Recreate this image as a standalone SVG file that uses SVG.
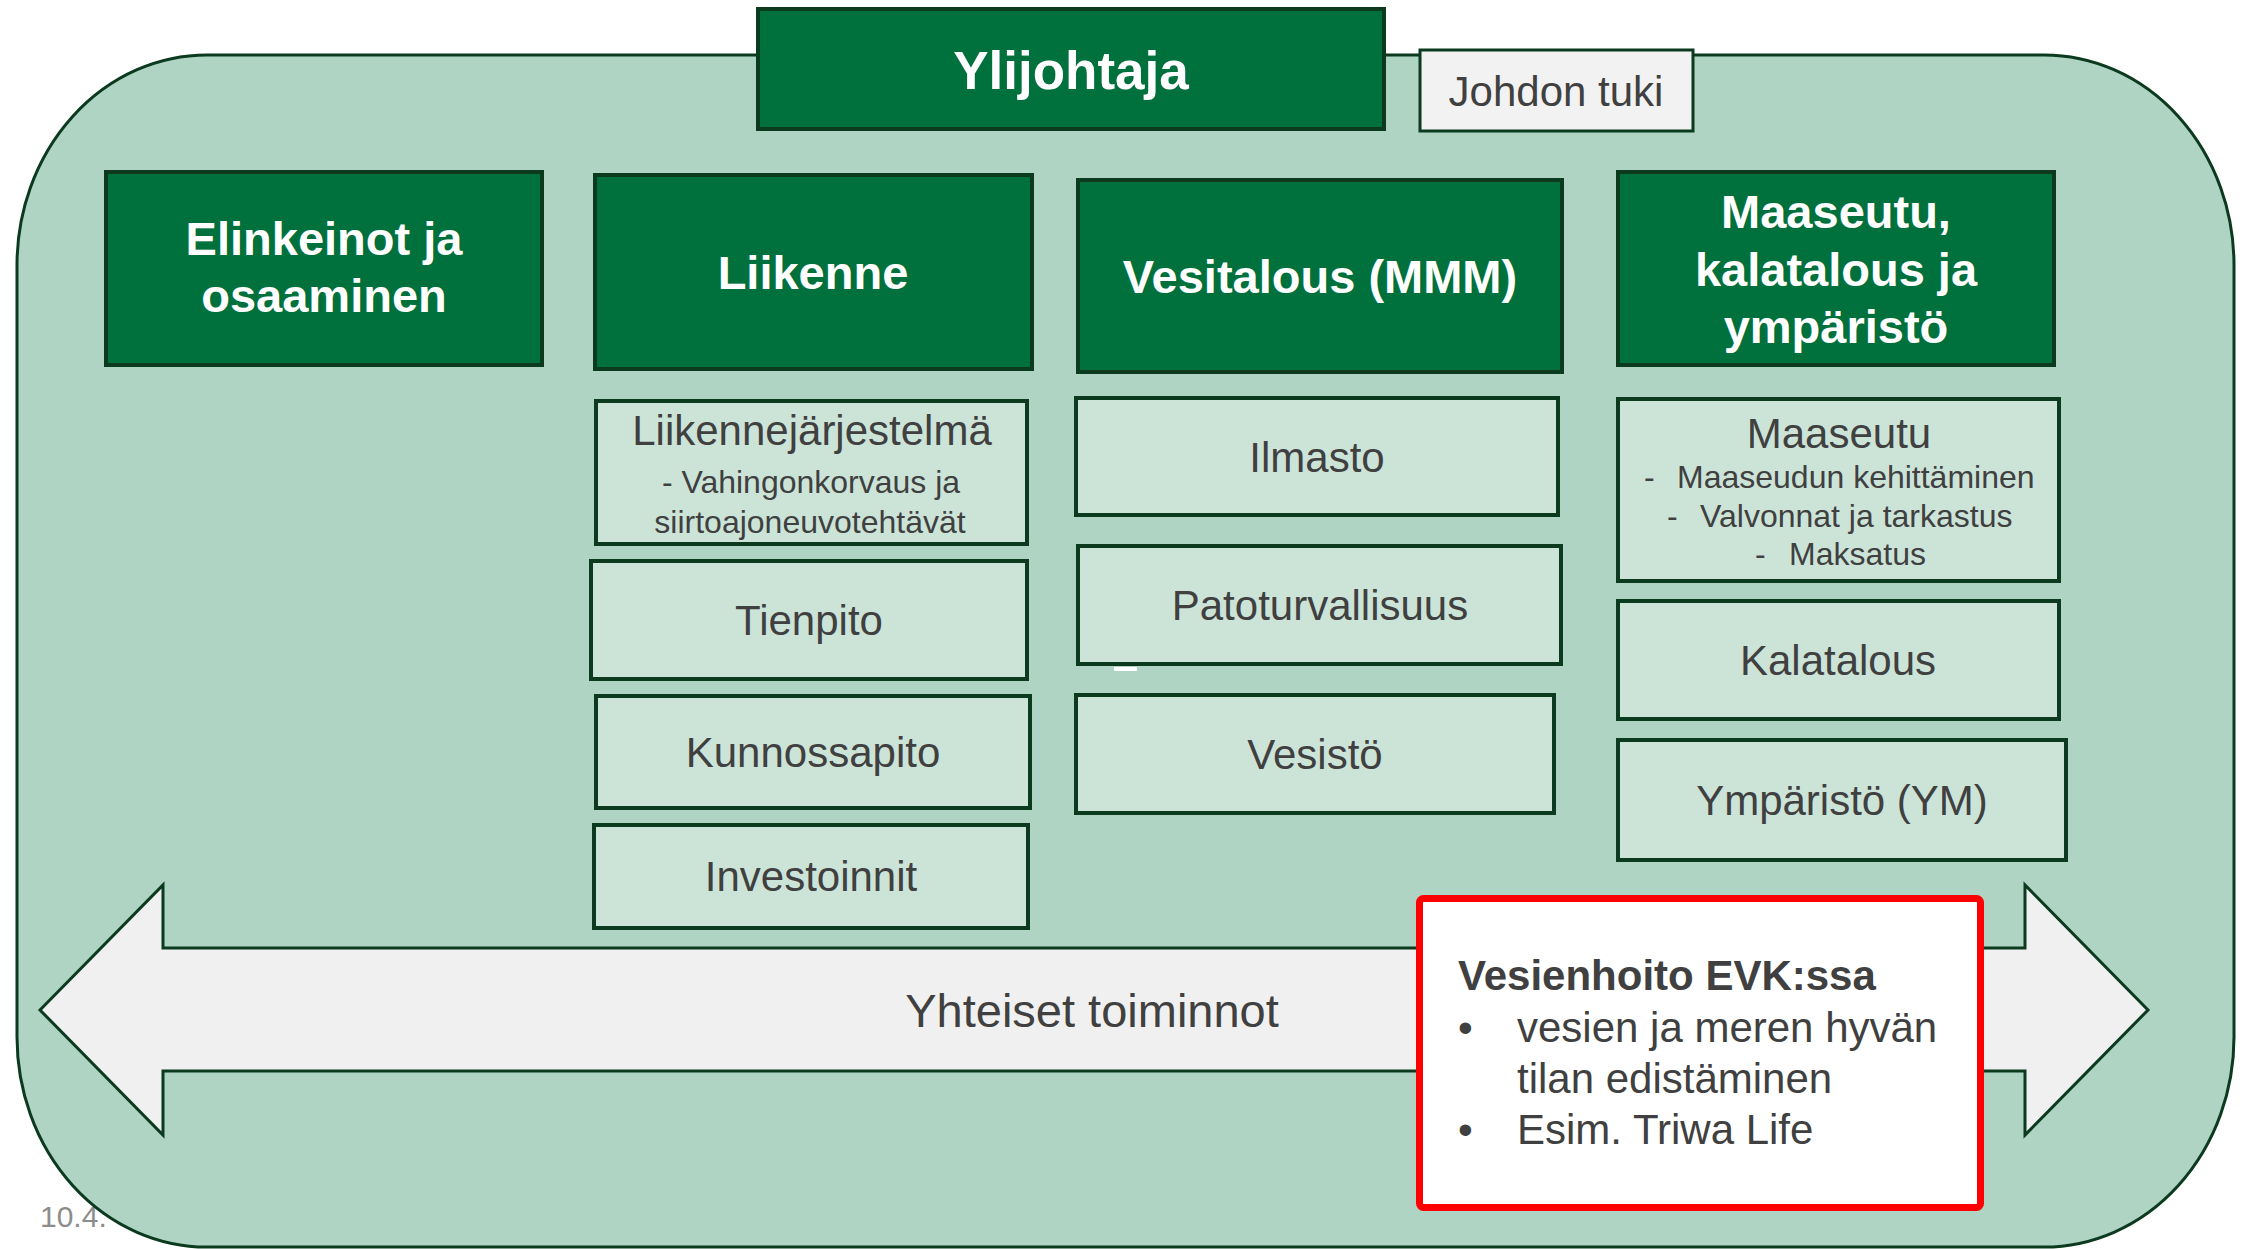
<svg xmlns="http://www.w3.org/2000/svg" width="2242" height="1249" viewBox="0 0 2242 1249">
<style>
text{font-family:"Liberation Sans",Arial,sans-serif;}
.hdr{fill:#00703C;stroke:#0B3A1F;stroke-width:4;}
.hdrt{fill:#FFFFFF;font-weight:bold;font-size:47px;text-anchor:middle;}
.sub{fill:#CCE4D8;stroke:#0B3A1F;stroke-width:4;}
.subt{fill:#404040;font-size:42px;text-anchor:middle;}
.small{fill:#404040;font-size:32px;}
.red{fill:#404040;font-size:42px;}
</style>
<rect width="2242" height="1249" fill="#FFFFFF"/>
<text x="40" y="1227" font-size="30" fill="#8C8C8C">10.4.</text>
<rect id="frame" x="17" y="55" width="2217" height="1192" rx="190" ry="210" fill="#AFD4C4" stroke="#0B3A1F" stroke-width="3"/>

<g id="ylijohtaja"><rect class="hdr" x="758" y="9" width="626" height="120"/><text class="hdrt" x="1071" y="89" font-size="53" style="font-size:53px">Ylijohtaja</text></g>
<g id="johdon-tuki"><rect x="1420" y="50" width="273" height="81" fill="#F2F2F2" stroke="#0B3A1F" stroke-width="3"/><text class="subt" x="1556" y="106">Johdon tuki</text></g>

<g id="elinkeinot"><rect class="hdr" x="106" y="172" width="436" height="193"/><text class="hdrt" x="324" y="255">Elinkeinot ja</text><text class="hdrt" x="324" y="312">osaaminen</text></g>
<g id="liikenne"><rect class="hdr" x="595" y="175" width="437" height="194"/><text class="hdrt" x="813" y="289">Liikenne</text></g>
<g id="vesitalous"><rect class="hdr" x="1078" y="180" width="484" height="192"/><text class="hdrt" x="1320" y="293">Vesitalous (MMM)</text></g>
<g id="maaseutu-header"><rect class="hdr" x="1618" y="172" width="436" height="193"/><text class="hdrt" x="1836" y="228">Maaseutu,</text><text class="hdrt" x="1836" y="286">kalatalous ja</text><text class="hdrt" x="1836" y="343">ympäristö</text></g>

<g id="liikennejarjestelma"><rect class="sub" x="596" y="401" width="431" height="143"/><text class="subt" x="812" y="445">Liikennejärjestelmä</text><text class="small" x="811" y="493" text-anchor="middle">- Vahingonkorvaus ja</text><text class="small" x="810" y="533" text-anchor="middle">siirtoajoneuvotehtävät</text></g>
<g id="tienpito"><rect class="sub" x="591" y="561" width="436" height="118"/><text class="subt" x="809" y="635">Tienpito</text></g>
<g id="kunnossapito"><rect class="sub" x="596" y="696" width="434" height="112"/><text class="subt" x="813" y="767">Kunnossapito</text></g>
<g id="investoinnit"><rect class="sub" x="594" y="825" width="434" height="103"/><text class="subt" x="811" y="891">Investoinnit</text></g>

<g id="ilmasto"><rect class="sub" x="1076" y="398" width="482" height="117"/><text class="subt" x="1317" y="472">Ilmasto</text></g>
<g id="patoturvallisuus"><rect class="sub" x="1078" y="546" width="483" height="118"/><text class="subt" x="1320" y="620">Patoturvallisuus</text></g>
<rect x="1114" y="667" width="23" height="4" fill="#FFFFFF"/>
<g id="vesisto"><rect class="sub" x="1076" y="695" width="478" height="118"/><text class="subt" x="1315" y="769">Vesistö</text></g>

<g id="maaseutu"><rect class="sub" x="1618" y="399" width="441" height="182"/><text class="subt" x="1839" y="448">Maaseutu</text>
<text class="small"><tspan x="1644" y="488">-</tspan><tspan x="1677" y="488">Maaseudun kehittäminen</tspan></text>
<text class="small"><tspan x="1667" y="527">-</tspan><tspan x="1700" y="527">Valvonnat ja tarkastus</tspan></text>
<text class="small"><tspan x="1755" y="565">-</tspan><tspan x="1789" y="565">Maksatus</tspan></text></g>
<g id="kalatalous"><rect class="sub" x="1618" y="601" width="441" height="118"/><text class="subt" x="1838" y="675">Kalatalous</text></g>
<g id="ymparisto"><rect class="sub" x="1618" y="740" width="448" height="120"/><text class="subt" x="1842" y="815">Ympäristö (YM)</text></g>

<g id="connectors">
<polygon id="yhteiset-arrow" points="40,1010 163,885 163,948 2025,948 2025,885 2148,1010 2025,1135 2025,1071 163,1071 163,1135" fill="#F0F0F0" stroke="#0B3A1F" stroke-width="3" stroke-linejoin="miter"/>
<text x="1092" y="1027" font-size="47" fill="#404040" text-anchor="middle">Yhteiset toiminnot</text>
</g>

<g id="vesienhoito"><rect x="1419.5" y="898.5" width="561" height="309" rx="4" fill="#FFFFFF" stroke="#FF0000" stroke-width="7"/>
<text x="1458" y="990" font-size="42" font-weight="bold" fill="#404040">Vesienhoito EVK:ssa</text>
<text class="red" x="1458" y="1042">•</text><text class="red" x="1517" y="1042">vesien ja meren hyvän</text>
<text class="red" x="1517" y="1093">tilan edistäminen</text>
<text class="red" x="1458" y="1144">•</text><text class="red" x="1517" y="1144">Esim. Triwa Life</text>
</g>
</svg>
